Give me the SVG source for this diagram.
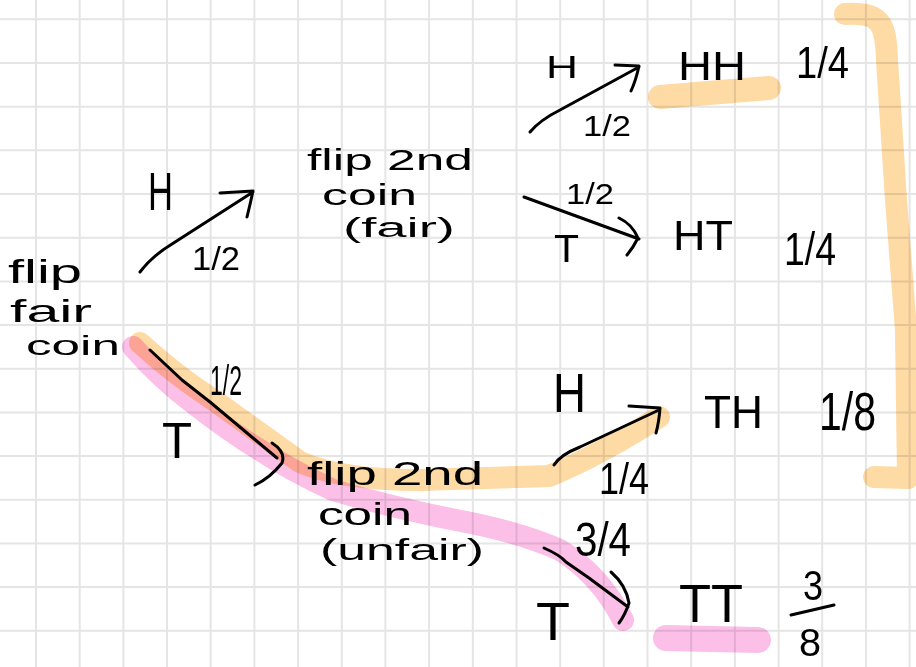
<svg xmlns="http://www.w3.org/2000/svg" width="916" height="667" viewBox="0 0 916 667">
<style>
.grid{stroke:#e5e5e5;stroke-width:2;fill:none}
.ink{stroke:#000;stroke-width:3;fill:none;stroke-linecap:round;stroke-linejoin:round}
.hl{fill:none;stroke-linecap:round;stroke-linejoin:round;mix-blend-mode:multiply}
.or{stroke:#fedaa5}
.pk{stroke:#fcc0e8}
text{font-family:"Liberation Sans",Arial,sans-serif;fill:#000}
</style>
<rect width="916" height="667" fill="#fff"/>
<g id="grid">
<path class="grid" d="M36,0V667M79.7,0V667M123.4,0V667M167,0V667M210.7,0V667M254.4,0V667M298.1,0V667M341.8,0V667M385.4,0V667M429.1,0V667M472.8,0V667M516.5,0V667M560.2,0V667M603.8,0V667M647.5,0V667M691.2,0V667M734.9,0V667M778.6,0V667M822.2,0V667M865.9,0V667M909.6,0V667M0,19.3H916M0,63H916M0,106.7H916M0,150.3H916M0,194H916M0,237.7H916M0,281.4H916M0,325.1H916M0,368.7H916M0,412.4H916M0,456.1H916M0,499.8H916M0,543.5H916M0,587.1H916M0,630.8H916"/>
</g>
<g id="highlights">
<path class="hl pk" stroke-width="22" d="M133,347 Q160,378 193,403 Q230,432 260,450 Q290,470 333,490 Q390,507 456,520 Q520,532 560,550 Q600,575 623,620"/>
<path class="hl or" stroke-width="22" d="M140,343 Q175,375 215,401 Q258,432 300,462 Q340,480 420,480 L549,476 Q600,455 659,417"/>
<path class="hl or" stroke-width="24" d="M660,97 L769,88"/>
<path class="hl pk" stroke-width="26" d="M666,638 L758,640"/>
<path class="hl or" stroke-width="22" d="M845,14 C880,12 886,22 887,60 L896,200 L906,330 L908,478 L874,477"/>
</g>
<g id="connectors">
<path class="ink" d="M140,272 Q152,256 172,244 L253,192 M220,193 L253,191 Q250,205 247,217"/>
<path class="ink" d="M530,132 Q540,120 560,110 L639,67 M615,65 L639,66 Q636,80 631,91"/>
<path class="ink" d="M524,197 L639,239 M619,218 Q632,224 638,238 Q633,248 627,255"/>
<path class="ink" d="M150,350 L182,380 L210,402 L277,458 M272,443 Q286,452 282,463 Q270,478 255,485"/>
<path class="ink" d="M554,465 Q560,455 580,447 L659,410 M629,406 L660,408 Q659,422 656,433"/>
<path class="ink" d="M544,548 Q560,555 566,562 L589,578 L628,607 M611,572 Q626,585 629,603 Q625,615 619,623"/>
</g>
<g id="edge-labels">
<text x="148" y="210" font-size="54" textLength="25" lengthAdjust="spacingAndGlyphs">H</text>
<text x="192" y="270" font-size="34" textLength="48" lengthAdjust="spacingAndGlyphs">1/2</text>
<text x="546" y="78" font-size="32" textLength="32" lengthAdjust="spacingAndGlyphs">H</text>
<text x="583" y="136" font-size="30" textLength="48" lengthAdjust="spacingAndGlyphs">1/2</text>
<text x="566" y="204" font-size="30" textLength="48" lengthAdjust="spacingAndGlyphs">1/2</text>
<text x="554" y="262" font-size="38" textLength="25" lengthAdjust="spacingAndGlyphs">T</text>
<text x="210" y="395" font-size="42" textLength="32" lengthAdjust="spacingAndGlyphs">1/2</text>
<text x="162" y="458" font-size="50" textLength="30" lengthAdjust="spacingAndGlyphs">T</text>
<text x="553" y="412" font-size="56" textLength="33" lengthAdjust="spacingAndGlyphs">H</text>
<text x="599" y="494" font-size="44" textLength="50" lengthAdjust="spacingAndGlyphs">1/4</text>
<text x="575" y="556" font-size="48" textLength="56" lengthAdjust="spacingAndGlyphs">3/4</text>
<text x="536" y="640" font-size="54" textLength="34" lengthAdjust="spacingAndGlyphs">T</text>
</g>
<g id="node-start">
<text x="8" y="283" font-size="34" textLength="74" lengthAdjust="spacingAndGlyphs">flip</text>
<text x="10" y="322" font-size="32" textLength="82" lengthAdjust="spacingAndGlyphs">fair</text>
<text x="26" y="355" font-size="28" textLength="94" lengthAdjust="spacingAndGlyphs">coin</text>
</g>
<g id="node-fair">
<text x="307" y="170" font-size="30" textLength="166" lengthAdjust="spacingAndGlyphs">flip 2nd</text>
<text x="322" y="205" font-size="30" textLength="95" lengthAdjust="spacingAndGlyphs">coin</text>
<text x="343" y="237" font-size="27" textLength="112" lengthAdjust="spacingAndGlyphs">(fair)</text>
</g>
<g id="node-unfair">
<text x="307" y="485" font-size="34" textLength="176" lengthAdjust="spacingAndGlyphs">flip 2nd</text>
<text x="318" y="525" font-size="32" textLength="94" lengthAdjust="spacingAndGlyphs">coin</text>
<text x="320" y="560" font-size="30" textLength="164" lengthAdjust="spacingAndGlyphs">(unfair)</text>
</g>
<g id="node-HH">
<text x="678" y="80" font-size="40" textLength="68" lengthAdjust="spacingAndGlyphs">HH</text>
<text x="796" y="78" font-size="44" textLength="53" lengthAdjust="spacingAndGlyphs">1/4</text>
</g>
<g id="node-HT">
<text x="673" y="250" font-size="42" textLength="60" lengthAdjust="spacingAndGlyphs">HT</text>
<text x="784" y="265" font-size="46" textLength="52" lengthAdjust="spacingAndGlyphs">1/4</text>
</g>
<g id="node-TH">
<text x="704" y="428" font-size="46" textLength="59" lengthAdjust="spacingAndGlyphs">TH</text>
<text x="819" y="430" font-size="54" textLength="57" lengthAdjust="spacingAndGlyphs">1/8</text>
</g>
<g id="node-TT">
<text x="679" y="622" font-size="54" textLength="64" lengthAdjust="spacingAndGlyphs">TT</text>
<text x="803" y="600" font-size="42" textLength="20" lengthAdjust="spacingAndGlyphs">3</text>
<path class="ink" d="M791,615 L834,605"/>
<text x="799" y="656" font-size="38" textLength="22" lengthAdjust="spacingAndGlyphs">8</text>
</g>
</svg>
